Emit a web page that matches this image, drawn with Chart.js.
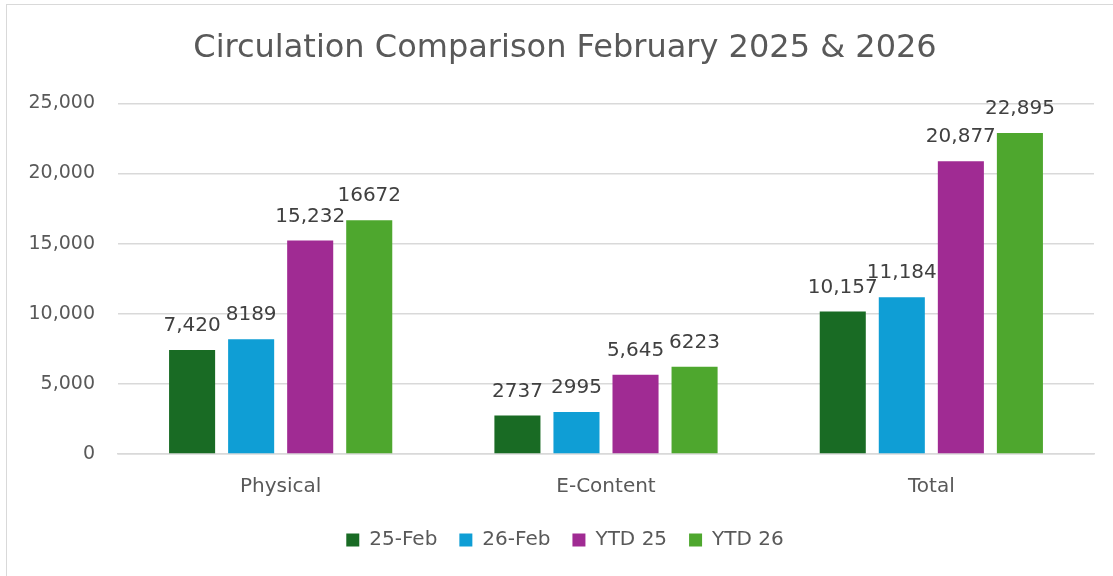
<!DOCTYPE html>
<html>
<head>
<meta charset="utf-8">
<script src="https://cdn.jsdelivr.net/npm/chart.js@4.4.1/dist/chart.umd.min.js"></script>
<style>
	html, body { margin: 0; padding: 0; background: #fff; }
	#wrap { position: relative; width: 1113px; height: 576px; overflow: hidden; }
	#frame { position: absolute; left: 6px; top: 4px; width: 1120px; height: 600px; border: 1.5px solid #d9d9d9; box-sizing: border-box; }
	#chart { position: absolute; left: 0; top: 0; }
</style>
</head>
<body>
<div id="wrap">
	<div id="frame"></div>
	<canvas id="chart" width="1113" height="576"></canvas>
</div>
<script>
// DATA
const categories = ["Physical", "E-Content", "Total"];
const seriesNames = ["25-Feb", "26-Feb", "YTD 25", "YTD 26"];
const feb25 = [7420, 2737, 10157];
const feb26 = [8189, 2995, 11184];
const ytd25 = [15232, 5645, 20877];
const ytd26 = [16672, 6223, 22895];
// labels as shown on the chart (formatting differs per cell)
const feb25Labels = ["7,420", "2737", "10,157"];
const feb26Labels = ["8189", "2995", "11,184"];
const ytd25Labels = ["15,232", "5,645", "20,877"];
const ytd26Labels = ["16672", "6223", "22,895"];
const yTicks = [0, 5000, 10000, 15000, 20000, 25000];

const colors = ["#196B24", "#0F9ED5", "#A02B93", "#4EA72E"];
const values = [feb25, feb26, ytd25, ytd26];
const labelSets = [feb25Labels, feb26Labels, ytd25Labels, ytd26Labels];
const FONT = "'DejaVu Sans', sans-serif";

const barLabels = {
	id: "barLabels",
	// let the y tick labels use the room left of the padded area
	afterLayout(chart) {
		chart.scales.y.left = 0;
	},
	afterDatasetsDraw(chart) {
		const ctx = chart.ctx;
		ctx.save();
		ctx.font = "20px " + FONT;
		ctx.fillStyle = "#404040";
		ctx.textAlign = "center";
		ctx.textBaseline = "middle";
		chart.data.datasets.forEach((ds, i) => {
			chart.getDatasetMeta(i).data.forEach((bar, j) => {
				ctx.fillText(ds.valueLabels[j], bar.x, bar.y - 24);
			});
		});
		ctx.restore();
	},
};

const ctx = document.getElementById("chart").getContext("2d");
new Chart(ctx, {
	type: "bar",
	data: {
		labels: categories,
		datasets: seriesNames.map((name, i) => ({
			label: name,
			data: values[i],
			valueLabels: labelSets[i],
			backgroundColor: colors[i],
			borderWidth: 0,
			categoryPercentage: 0.726,
			barPercentage: 0.78,
		})),
	},
	options: {
		responsive: false,
		animation: false,
		layout: { padding: { left: 36, right: 19, top: 0, bottom: 16 } },
		plugins: {
			title: {
				display: true,
				text: "Circulation Comparison February 2025 & 2026",
				color: "#595959",
				font: { family: FONT, size: 32, weight: "normal" },
				padding: { top: 29, bottom: 36 },
			},
			legend: {
				position: "bottom",
				labels: {
					color: "#595959",
					font: { family: FONT, size: 20 },
					boxWidth: 13,
					boxHeight: 13,
					padding: 22,
				},
			},
			tooltip: { enabled: false },
		},
		scales: {
			x: {
				grid: { display: false, drawTicks: false },
				border: { color: "#d9d9d9", width: 1.5 },
				ticks: { color: "#595959", font: { family: FONT, size: 20 }, padding: 21 },
				afterFit: (scale) => { scale.height = 54; },
			},
			y: {
				min: 0,
				max: 25000,
				afterBuildTicks: (scale) => { scale.ticks = yTicks.map((v) => ({ value: v })); },
				afterFit: (scale) => { scale.width = 82; },
				grid: { color: "#d9d9d9", lineWidth: 1.5, drawTicks: false },
				border: { display: false },
				ticks: {
					color: "#595959",
					font: { family: FONT, size: 19 },
					padding: 23,
					callback: (v) => v.toLocaleString("en-US"),
				},
			},
		},
	},
	plugins: [barLabels],
});
</script>
</body>
</html>
